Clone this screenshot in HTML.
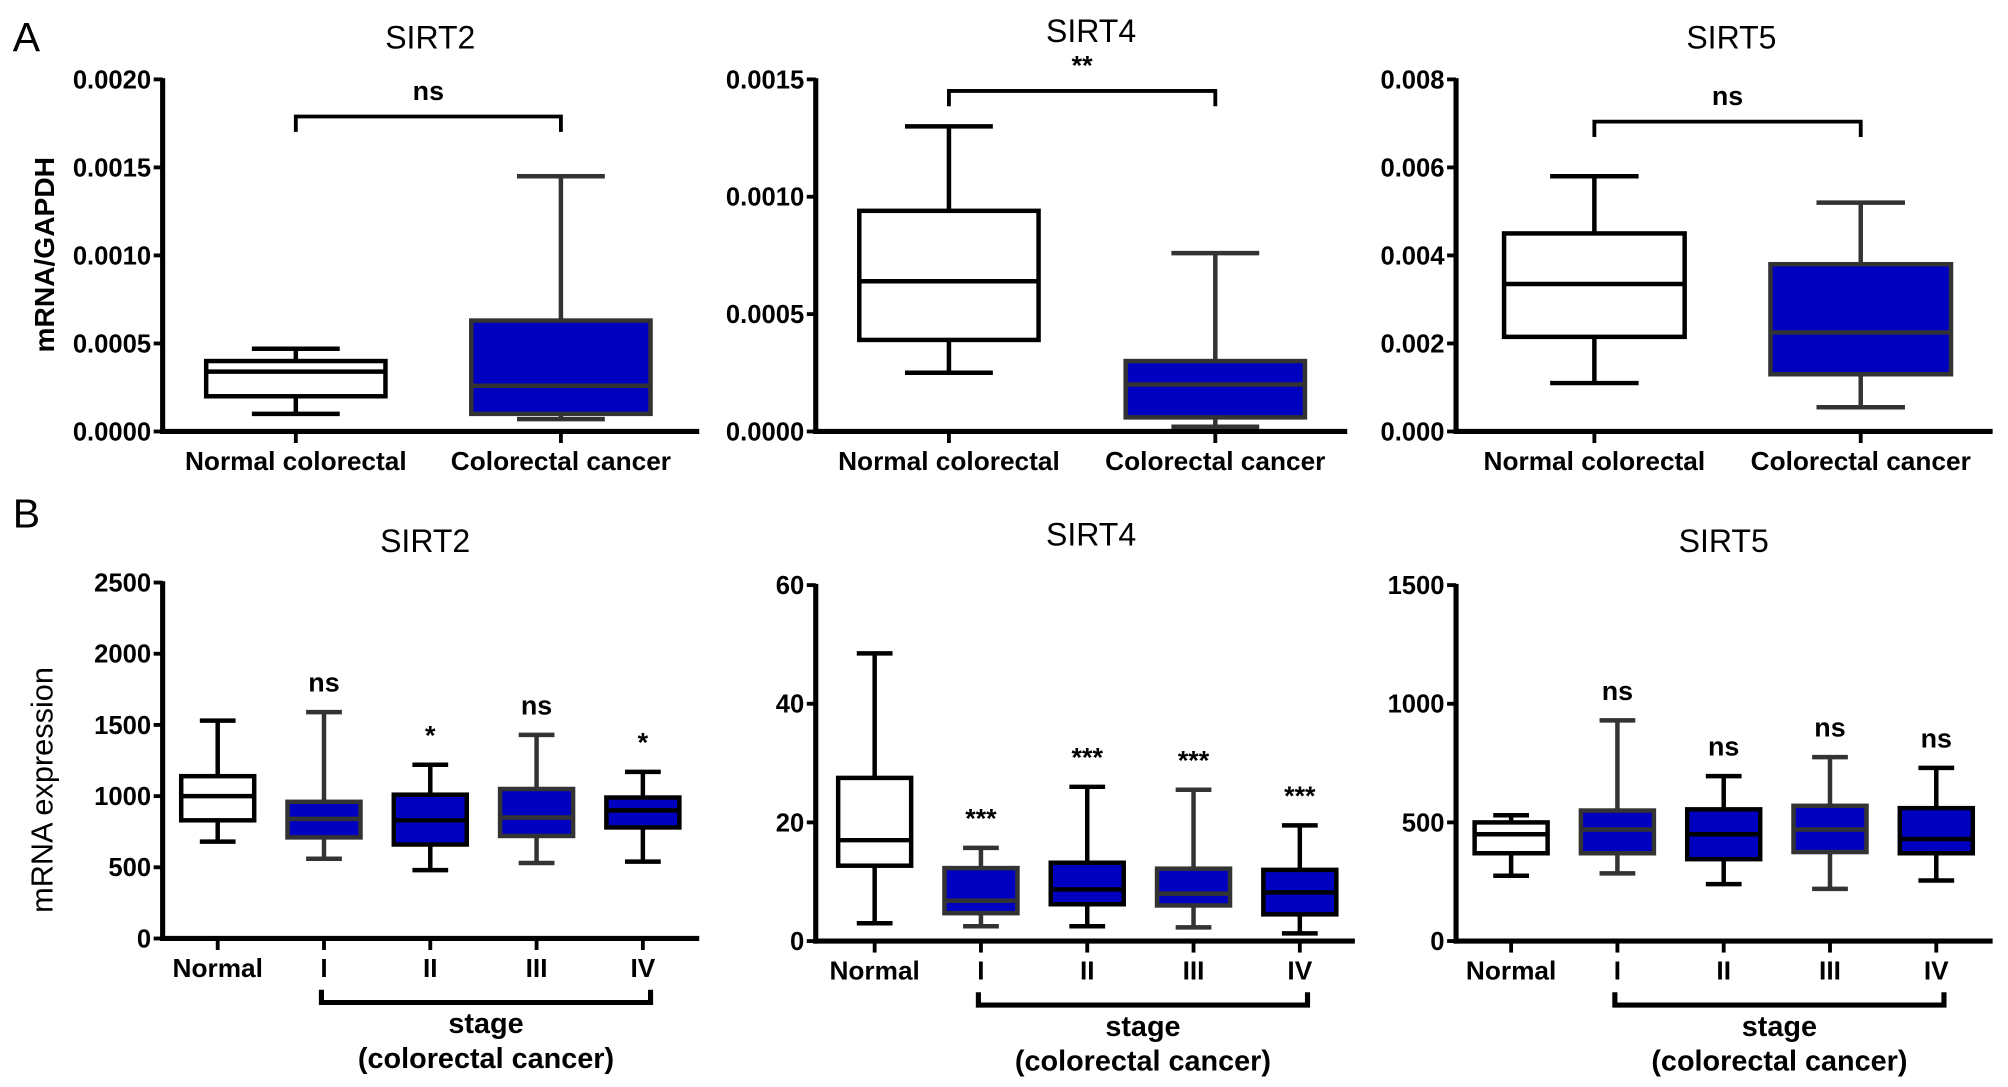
<!DOCTYPE html>
<html><head><meta charset="utf-8">
<style>
html,body{margin:0;padding:0;background:#fff;}
svg{display:block;}
text{font-family:"Liberation Sans",Arial,sans-serif;fill:#000;}
.tick{font-weight:bold;font-size:20px;}
.cat{font-weight:bold;font-size:20.5px;}
.title{font-size:25px;}
.ann{font-weight:bold;font-size:21px;}
.stg{font-weight:bold;font-size:22.5px;}
</style></head>
<body>
<svg id="fig" width="2008" height="1087" viewBox="0 0 1568 849" preserveAspectRatio="none">
<text x="10" y="40" font-size="32">A</text>
<text x="10" y="412" font-size="32">B</text>
<text transform="translate(42,199) rotate(-90)" text-anchor="middle" font-weight="bold" font-size="22">mRNA/GAPDH</text>
<text transform="translate(41,617) rotate(-90)" text-anchor="middle" font-size="24">mRNA expression</text>
</svg>
<script>
// ---- data ----
const catsA = ["Normal colorectal","Colorectal cancer"];
const catsB = ["Normal","I","II","III","IV"];
// each box: [min, q1, median, q3, max]
const a1Boxes = [[0.0001,0.0002,0.00034,0.0004,0.00047],[0.00007,0.0001,0.00026,0.00063,0.00145]];
const a2Boxes = [[0.00025,0.00039,0.00064,0.00094,0.0013],[0.00002,0.00006,0.0002,0.0003,0.00076]];
const a3Boxes = [[0.0011,0.00215,0.00335,0.0045,0.0058],[0.00055,0.0013,0.00225,0.0038,0.0052]];
const b1Boxes = [[680,830,1000,1140,1530],[560,710,840,960,1590],[480,660,830,1010,1220],[530,720,850,1050,1430],[540,780,900,990,1170]];
const b2Boxes = [[3,12.7,17,27.5,48.5],[2.5,4.7,6.8,12.3,15.7],[2.5,6.2,8.7,13.2,26],[2.3,6,8,12.2,25.5],[1.3,4.5,8.2,12,19.5]];
const b3Boxes = [[275,370,450,500,530],[285,370,470,550,930],[240,345,450,555,695],[220,375,470,570,775],[255,370,430,560,730]];
const a1Ticks = ["0.0000","0.0005","0.0010","0.0015","0.0020"];
const a2Ticks = ["0.0000","0.0005","0.0010","0.0015"];
const a3Ticks = ["0.000","0.002","0.004","0.006","0.008"];
const b1Ticks = ["0","500","1000","1500","2000","2500"];
const b2Ticks = ["0","20","40","60"];
const b3Ticks = ["0","500","1000","1500"];
const b1Ann = ["","ns","*","ns","*"];
const b2Ann = ["","***","***","***","***"];
const b3Ann = ["","ns","ns","ns","ns"];

const NS="http://www.w3.org/2000/svg";
const svg=document.getElementById('fig');
function mk(tag,attrs,parent){const e=document.createElementNS(NS,tag);for(const k in attrs)e.setAttribute(k,attrs[k]);(parent||svg).appendChild(e);return e;}

function panel(o){
  const g=mk('g',{});
  
  
  const max=parseFloat(o.ticks[o.ticks.length-1]);
  const y=v=>o.y0-(v/max)*(o.y0-o.yTop);
  const n=o.cats.length;
  const x=i=>o.xc0+i*o.step;
  const t=mk('text',{x:o.titleX,y:o.titleY,'text-anchor':'middle',class:'title'},g);t.textContent=o.title;
  
  
  const ya=mk('line',{x1:o.ax,y1:o.yTop-1,x2:o.ax,y2:o.y0+2,stroke:'#000','stroke-width':4},g);
  
  
  const xa=mk('line',{x1:o.ax-2,y1:o.y0,x2:o.axEnd,y2:o.y0,stroke:'#000','stroke-width':4},g);
  
  
  o.ticks.forEach(tv=>{
    const yy=y(parseFloat(tv));
    mk('line',{x1:o.ax-7,y1:yy,x2:o.ax,y2:yy,stroke:'#000','stroke-width':3},g);
    const tt=mk('text',{x:o.ax-9,y:yy+7,'text-anchor':'end',class:'tick'},g);tt.textContent=tv;
    
    
  });
  o.cats.forEach((c,i)=>{
    mk('line',{x1:x(i),y1:o.y0,x2:x(i),y2:o.y0+9,stroke:'#000','stroke-width':3},g);
    const ct=mk('text',{x:x(i),y:o.y0+30,'text-anchor':'middle',class:'cat'},g);ct.textContent=c;
    
    
  });
  o.boxes.forEach((b,i)=>{
    const bg=mk('g',{},g);
    
    
    const blue=i>0;
    const sc=blue?(o.dark&&o.dark[i]?'#000':'#333'):'#000';
    const cx=x(i),hw=o.bw/2,cw=o.bw*0.245;
    mk('line',{x1:cx,y1:y(b[0]),x2:cx,y2:y(b[4]),stroke:sc,'stroke-width':3.5},bg);
    mk('line',{x1:cx-cw,y1:y(b[0]),x2:cx+cw,y2:y(b[0]),stroke:sc,'stroke-width':3.5},bg);
    mk('line',{x1:cx-cw,y1:y(b[4]),x2:cx+cw,y2:y(b[4]),stroke:sc,'stroke-width':3.5},bg);
    mk('rect',{x:cx-hw,y:y(b[3]),width:o.bw,height:y(b[1])-y(b[3]),fill:blue?'#0000c0':'#fff',stroke:sc,'stroke-width':3.5},bg);
    mk('line',{x1:cx-hw,y1:y(b[2]),x2:cx+hw,y2:y(b[2]),stroke:sc,'stroke-width':3.5},bg);
    if(o.ann&&o.ann[i]){
      const isStar=o.ann[i].indexOf('*')>=0;
      const at=mk('text',{x:cx,y:y(b[4])-(isStar?16:16),'text-anchor':'middle',class:'ann','font-weight':isStar?'normal':'bold','font-size':isStar?23:21},bg);
      at.textContent=o.ann[i];
      
      
    }
  });
  if(o.bracketA){
    const by=o.bracketA;
    const br=mk('path',{d:`M${x(0)},${by+12} V${by} H${x(1)} V${by+12}`,fill:'none',stroke:'#000','stroke-width':3},g);
    
    
    const s=mk('text',{x:(x(0)+x(1))/2,y:by-13,'text-anchor':'middle',class:'ann'},g);s.textContent=o.sig;
    
    
  }
  if(o.stage){
    const by=o.y0+50,x1=x(1)-2,x2=x(n-1)+6;
    const br=mk('path',{d:`M${x1},${by-10} V${by} H${x2} V${by-10}`,fill:'none',stroke:'#000','stroke-width':4},g);
    
    
    const s1=mk('text',{x:(x1+x2)/2,y:by+24,'text-anchor':'middle',class:'stg'},g);s1.textContent='stage';
    
    
    const s2=mk('text',{x:(x1+x2)/2,y:by+51,'text-anchor':'middle',class:'stg'},g);s2.textContent='(colorectal cancer)';
    
    
  }
}
panel({name:'panel-a-sirt2',title:'SIRT2',titleX:336,titleY:38,ax:127,axEnd:546,yTop:62,y0:337,cats:catsA,xc0:231,step:207,bw:140,boxes:a1Boxes,ticks:a1Ticks,bracketA:91,sig:'ns'});
panel({name:'panel-a-sirt4',title:'SIRT4',titleX:852,titleY:33,ax:637,axEnd:1052,yTop:62,y0:337,cats:catsA,xc0:741,step:208,bw:140,boxes:a2Boxes,ticks:a2Ticks,bracketA:71,sig:'**'});
panel({name:'panel-a-sirt5',title:'SIRT5',titleX:1352,titleY:38,ax:1137,axEnd:1556,yTop:62,y0:337,cats:catsA,xc0:1245,step:208,bw:141,boxes:a3Boxes,ticks:a3Ticks,bracketA:95,sig:'ns'});
panel({name:'panel-b-sirt2',title:'SIRT2',titleX:332,titleY:431,ax:127,axEnd:546,yTop:455,y0:733,cats:catsB,xc0:170,step:83,bw:57,boxes:b1Boxes,ticks:b1Ticks,ann:b1Ann,stage:true,dark:[0,0,1,0,1]});
panel({name:'panel-b-sirt4',title:'SIRT4',titleX:852,titleY:426,ax:637,axEnd:1058,yTop:457,y0:735,cats:catsB,xc0:683,step:83,bw:57,boxes:b2Boxes,ticks:b2Ticks,ann:b2Ann,stage:true,dark:[0,0,1,0,1]});
panel({name:'panel-b-sirt5',title:'SIRT5',titleX:1346,titleY:431,ax:1137,axEnd:1556,yTop:457,y0:735,cats:catsB,xc0:1180,step:83,bw:57,boxes:b3Boxes,ticks:b3Ticks,ann:b3Ann,stage:true,dark:[0,0,1,0,1]});
</script>
</body></html>
